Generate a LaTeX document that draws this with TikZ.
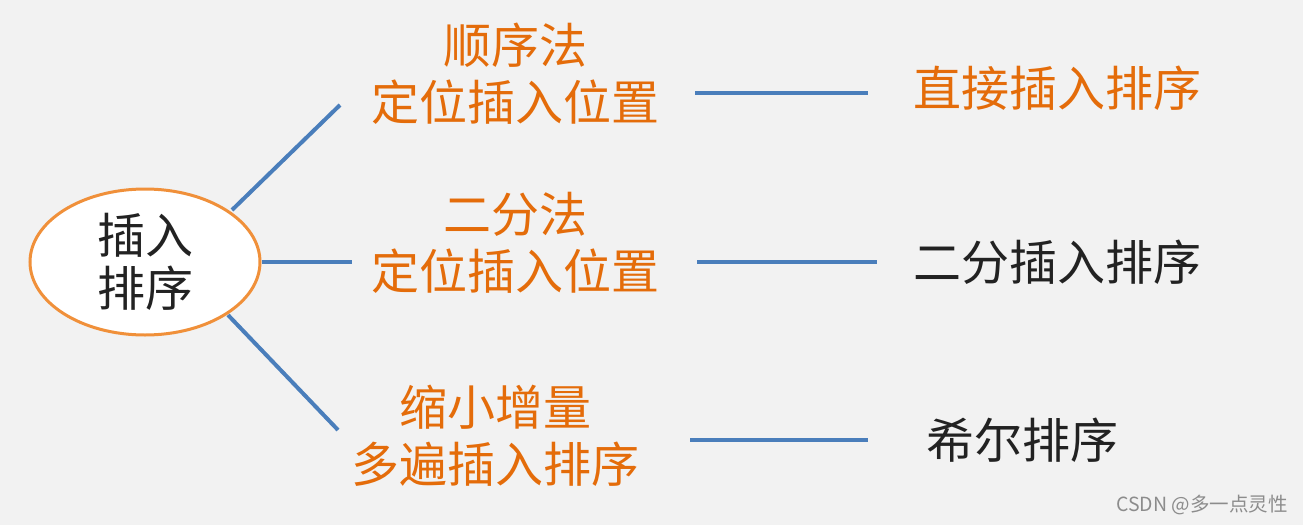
\documentclass[tikz,border=0pt]{standalone}
\usepackage{fontspec}
\newfontfamily\cjk{Noto Sans CJK SC}
\usetikzlibrary{shapes.geometric}
\definecolor{txtorange}{HTML}{E46C0A}
\definecolor{linkblue}{HTML}{4A7EBB}
\definecolor{rimorange}{HTML}{F0903A}
\definecolor{bggray}{HTML}{F2F2F2}
\definecolor{inkblack}{HTML}{222222}

\tikzset{
  cjktext/.style={font=\cjk\fontsize{48}{57}\selectfont, align=center, inner sep=0pt},
  orangetext/.style={cjktext, text=txtorange},
  blacktext/.style={cjktext, text=inkblack},
  link/.style={draw=linkblue, line width=4pt}
}

\begin{document}
\begin{tikzpicture}[x=1pt, y=-1pt]
  \fill[bggray] (0,0) rectangle (1303,525);
  \useasboundingbox (0,0) rectangle (1303,525);

  \node (root) [ellipse, draw=rimorange, line width=3pt, fill=white,
    minimum width=230pt, minimum height=146pt, inner sep=0pt,
    font=\cjk\fontsize{48}{53}\selectfont, text=inkblack, align=center]
    at (145,262) {插入\\排序};

  \node (m1) [orangetext] at (515,74) {顺序法\\定位插入位置};
  \node (m2) [orangetext] at (515,243) {二分法\\定位插入位置};
  \node (m3) [orangetext] at (495,436) {缩小增量\\多遍插入排序};

  \node (r1) [orangetext] at (1057,88) {直接插入排序};
  \node (r2) [blacktext] at (1057,262) {二分插入排序};
  \node (r3) [blacktext] at (1022,440) {希尔排序};

  \node (mark) [font=\cjk\fontsize{19.5}{21}\selectfont, text=black!45, inner sep=0pt]
    at (1202,505) {CSDN @多一点灵性};

  % connectors
  \coordinate (u1) at (232,210);
  \coordinate (u2) at (340,105);
  \coordinate (v1) at (352,262);
  \coordinate (w1) at (228,315);
  \coordinate (w2) at (338,430);
  \draw[link] (u1) -- (u2);
  \draw[link] (root.east) -- (v1);
  \draw[link] (w1) -- (w2);

  \coordinate (h1a) at (695,93);
  \coordinate (h1b) at (868,93);
  \coordinate (h2a) at (697,262);
  \coordinate (h2b) at (877,262);
  \coordinate (h3a) at (690,440);
  \coordinate (h3b) at (868,440);
  \draw[link] (h1a) -- (h1b);
  \draw[link] (h2a) -- (h2b);
  \draw[link] (h3a) -- (h3b);
\end{tikzpicture}
\end{document}
